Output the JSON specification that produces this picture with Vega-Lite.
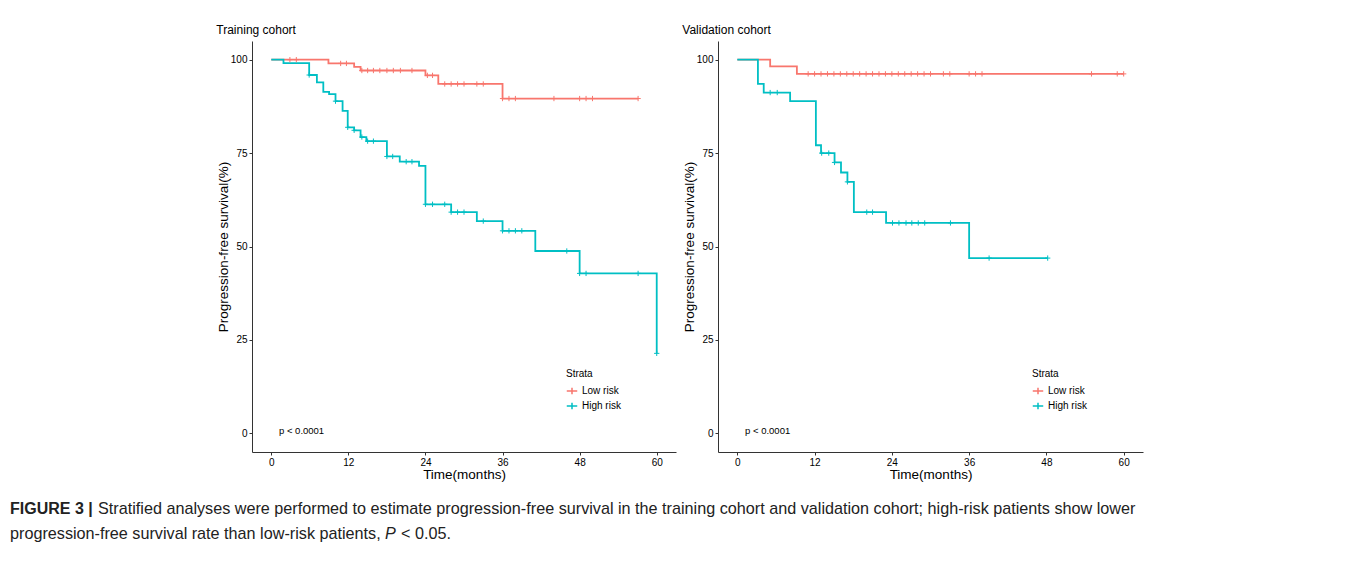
{
  "$schema": "https://vega.github.io/schema/vega-lite/v6.json",
  "background": "white",
  "padding": {"left": 10, "top": 24, "right": 5, "bottom": 5},
  "datasets": {
    "train_curve": [
      {"strata": "Low risk", "time": 0, "surv": 100},
      {"strata": "Low risk", "time": 8.9, "surv": 99.0},
      {"strata": "Low risk", "time": 12.9, "surv": 98.1},
      {"strata": "Low risk", "time": 13.9, "surv": 97.1},
      {"strata": "Low risk", "time": 24, "surv": 95.8},
      {"strata": "Low risk", "time": 26, "surv": 93.5},
      {"strata": "Low risk", "time": 36, "surv": 89.6},
      {"strata": "Low risk", "time": 57.1, "surv": 89.6},
      {"strata": "High risk", "time": 0, "surv": 100},
      {"strata": "High risk", "time": 1.9, "surv": 99.1},
      {"strata": "High risk", "time": 5.9, "surv": 95.9},
      {"strata": "High risk", "time": 7.1, "surv": 93.9},
      {"strata": "High risk", "time": 8.1, "surv": 91.4},
      {"strata": "High risk", "time": 9.0, "surv": 90.8},
      {"strata": "High risk", "time": 10.0, "surv": 88.9},
      {"strata": "High risk", "time": 11.1, "surv": 86.3},
      {"strata": "High risk", "time": 11.9, "surv": 81.9},
      {"strata": "High risk", "time": 12.9, "surv": 81.1},
      {"strata": "High risk", "time": 13.9, "surv": 79.3},
      {"strata": "High risk", "time": 14.8, "surv": 78.2},
      {"strata": "High risk", "time": 18.0, "surv": 74.1},
      {"strata": "High risk", "time": 20.0, "surv": 72.7},
      {"strata": "High risk", "time": 23.0, "surv": 71.6},
      {"strata": "High risk", "time": 24.0, "surv": 61.3},
      {"strata": "High risk", "time": 28.0, "surv": 59.2},
      {"strata": "High risk", "time": 32.0, "surv": 56.8},
      {"strata": "High risk", "time": 36.0, "surv": 54.2},
      {"strata": "High risk", "time": 41.1, "surv": 48.8},
      {"strata": "High risk", "time": 48.0, "surv": 42.8},
      {"strata": "High risk", "time": 60.0, "surv": 21.4}
    ],
    "train_censor": [
      {"strata": "Low risk", "time": 2.9, "surv": 100},
      {"strata": "Low risk", "time": 3.9, "surv": 100},
      {"strata": "Low risk", "time": 10.8, "surv": 99.0},
      {"strata": "Low risk", "time": 11.7, "surv": 99.0},
      {"strata": "Low risk", "time": 14.1, "surv": 97.1},
      {"strata": "Low risk", "time": 15.0, "surv": 97.1},
      {"strata": "Low risk", "time": 15.9, "surv": 97.1},
      {"strata": "Low risk", "time": 16.9, "surv": 97.1},
      {"strata": "Low risk", "time": 18.0, "surv": 97.1},
      {"strata": "Low risk", "time": 19.0, "surv": 97.1},
      {"strata": "Low risk", "time": 20.1, "surv": 97.1},
      {"strata": "Low risk", "time": 21.9, "surv": 97.1},
      {"strata": "Low risk", "time": 24.3, "surv": 95.8},
      {"strata": "Low risk", "time": 25.1, "surv": 95.8},
      {"strata": "Low risk", "time": 27.0, "surv": 93.5},
      {"strata": "Low risk", "time": 28.0, "surv": 93.5},
      {"strata": "Low risk", "time": 29.0, "surv": 93.5},
      {"strata": "Low risk", "time": 30.0, "surv": 93.5},
      {"strata": "Low risk", "time": 32.0, "surv": 93.5},
      {"strata": "Low risk", "time": 33.0, "surv": 93.5},
      {"strata": "Low risk", "time": 36.0, "surv": 89.6},
      {"strata": "Low risk", "time": 37.0, "surv": 89.6},
      {"strata": "Low risk", "time": 38.0, "surv": 89.6},
      {"strata": "Low risk", "time": 44.0, "surv": 89.6},
      {"strata": "Low risk", "time": 48.0, "surv": 89.6},
      {"strata": "Low risk", "time": 49.0, "surv": 89.6},
      {"strata": "Low risk", "time": 50.0, "surv": 89.6},
      {"strata": "Low risk", "time": 57.1, "surv": 89.6},
      {"strata": "High risk", "time": 5.9, "surv": 95.9},
      {"strata": "High risk", "time": 10.0, "surv": 88.9},
      {"strata": "High risk", "time": 11.9, "surv": 81.9},
      {"strata": "High risk", "time": 12.9, "surv": 81.1},
      {"strata": "High risk", "time": 14.1, "surv": 79.3},
      {"strata": "High risk", "time": 15.0, "surv": 78.2},
      {"strata": "High risk", "time": 15.9, "surv": 78.2},
      {"strata": "High risk", "time": 18.0, "surv": 74.1},
      {"strata": "High risk", "time": 18.9, "surv": 74.1},
      {"strata": "High risk", "time": 21.0, "surv": 72.7},
      {"strata": "High risk", "time": 21.9, "surv": 72.7},
      {"strata": "High risk", "time": 24.0, "surv": 61.3},
      {"strata": "High risk", "time": 25.1, "surv": 61.3},
      {"strata": "High risk", "time": 27.0, "surv": 61.3},
      {"strata": "High risk", "time": 28.0, "surv": 59.2},
      {"strata": "High risk", "time": 29.0, "surv": 59.2},
      {"strata": "High risk", "time": 30.0, "surv": 59.2},
      {"strata": "High risk", "time": 33.0, "surv": 56.8},
      {"strata": "High risk", "time": 36.0, "surv": 54.2},
      {"strata": "High risk", "time": 37.0, "surv": 54.2},
      {"strata": "High risk", "time": 38.0, "surv": 54.2},
      {"strata": "High risk", "time": 39.0, "surv": 54.2},
      {"strata": "High risk", "time": 46.0, "surv": 48.8},
      {"strata": "High risk", "time": 48.0, "surv": 42.8},
      {"strata": "High risk", "time": 49.0, "surv": 42.8},
      {"strata": "High risk", "time": 57.1, "surv": 42.8},
      {"strata": "High risk", "time": 60.0, "surv": 21.4}
    ],
    "valid_curve": [
      {"strata": "Low risk", "time": 0, "surv": 100},
      {"strata": "Low risk", "time": 5.1, "surv": 98.2},
      {"strata": "Low risk", "time": 9.25, "surv": 96.2},
      {"strata": "Low risk", "time": 60, "surv": 96.2},
      {"strata": "High risk", "time": 0, "surv": 100},
      {"strata": "High risk", "time": 3.2, "surv": 93.5},
      {"strata": "High risk", "time": 4.1, "surv": 91.2},
      {"strata": "High risk", "time": 8.2, "surv": 88.9},
      {"strata": "High risk", "time": 12.2, "surv": 77.1},
      {"strata": "High risk", "time": 13.0, "surv": 75.0},
      {"strata": "High risk", "time": 15.1, "surv": 72.5},
      {"strata": "High risk", "time": 16.1, "surv": 69.8},
      {"strata": "High risk", "time": 17.1, "surv": 67.3},
      {"strata": "High risk", "time": 18.1, "surv": 59.2},
      {"strata": "High risk", "time": 23.1, "surv": 56.3},
      {"strata": "High risk", "time": 36.0, "surv": 46.9},
      {"strata": "High risk", "time": 48.2, "surv": 46.9}
    ],
    "valid_censor": [
      {"strata": "Low risk", "time": 11, "surv": 96.2},
      {"strata": "Low risk", "time": 12, "surv": 96.2},
      {"strata": "Low risk", "time": 13, "surv": 96.2},
      {"strata": "Low risk", "time": 14, "surv": 96.2},
      {"strata": "Low risk", "time": 15, "surv": 96.2},
      {"strata": "Low risk", "time": 16, "surv": 96.2},
      {"strata": "Low risk", "time": 17, "surv": 96.2},
      {"strata": "Low risk", "time": 18, "surv": 96.2},
      {"strata": "Low risk", "time": 19, "surv": 96.2},
      {"strata": "Low risk", "time": 20, "surv": 96.2},
      {"strata": "Low risk", "time": 21, "surv": 96.2},
      {"strata": "Low risk", "time": 22, "surv": 96.2},
      {"strata": "Low risk", "time": 23, "surv": 96.2},
      {"strata": "Low risk", "time": 24, "surv": 96.2},
      {"strata": "Low risk", "time": 25, "surv": 96.2},
      {"strata": "Low risk", "time": 26, "surv": 96.2},
      {"strata": "Low risk", "time": 27, "surv": 96.2},
      {"strata": "Low risk", "time": 28, "surv": 96.2},
      {"strata": "Low risk", "time": 29, "surv": 96.2},
      {"strata": "Low risk", "time": 30, "surv": 96.2},
      {"strata": "Low risk", "time": 32, "surv": 96.2},
      {"strata": "Low risk", "time": 33, "surv": 96.2},
      {"strata": "Low risk", "time": 36, "surv": 96.2},
      {"strata": "Low risk", "time": 37, "surv": 96.2},
      {"strata": "Low risk", "time": 38, "surv": 96.2},
      {"strata": "Low risk", "time": 55, "surv": 96.2},
      {"strata": "Low risk", "time": 59, "surv": 96.2},
      {"strata": "Low risk", "time": 60, "surv": 96.2},
      {"strata": "High risk", "time": 5.1, "surv": 91.2},
      {"strata": "High risk", "time": 6.2, "surv": 91.2},
      {"strata": "High risk", "time": 13.1, "surv": 75.0},
      {"strata": "High risk", "time": 14.2, "surv": 75.0},
      {"strata": "High risk", "time": 15.1, "surv": 72.5},
      {"strata": "High risk", "time": 17.1, "surv": 67.3},
      {"strata": "High risk", "time": 20.1, "surv": 59.2},
      {"strata": "High risk", "time": 21.0, "surv": 59.2},
      {"strata": "High risk", "time": 24.1, "surv": 56.3},
      {"strata": "High risk", "time": 25.1, "surv": 56.3},
      {"strata": "High risk", "time": 26.2, "surv": 56.3},
      {"strata": "High risk", "time": 27.1, "surv": 56.3},
      {"strata": "High risk", "time": 28.1, "surv": 56.3},
      {"strata": "High risk", "time": 29.1, "surv": 56.3},
      {"strata": "High risk", "time": 33.1, "surv": 56.3},
      {"strata": "High risk", "time": 39.1, "surv": 46.9},
      {"strata": "High risk", "time": 48.2, "surv": 46.9}
    ],
    "pval": [{"label": "p < 0.0001", "time": 1.2, "surv": 0.5}],
    "caption": [
      {"part": "bold", "text": "FIGURE 3 |"},
      {"part": "line1", "text": "Stratified analyses were performed to estimate progression-free survival in the training cohort and validation cohort; high-risk patients show lower"},
      {"part": "line2", "text": "progression-free survival rate than low-risk patients,"},
      {"part": "italic", "text": "P"},
      {"part": "tail", "text": "< 0.05."}
    ]
  },
  "vconcat": [
    {
      "hconcat": [
        {
          "width": 200, "height": 411,
          "view": {"stroke": null},
          "data": {"values": []},
          "mark": {"type": "point", "opacity": 0},
          "encoding": {}
        },
        {
          "width": 424, "height": 411,
          "title": {"text": "Training cohort", "anchor": "start", "fontSize": 12, "fontWeight": "normal", "offset": 4, "font": "Liberation Sans", "color": "#000"},
          "layer": [
            {
              "data": {"name": "train_curve"},
              "mark": {"type": "line", "interpolate": "step-after", "strokeWidth": 1.8},
              "encoding": {
                "x": {"field": "time", "type": "quantitative", "scale": {"domain": [-3, 63], "nice": false, "zero": false}, "axis": {"values": [0, 12, 24, 36, 48, 60], "title": "Time(months)", "titlePadding": 0}},
                "y": {"field": "surv", "type": "quantitative", "scale": {"domain": [-5, 105], "nice": false, "zero": false}, "axis": {"values": [0, 25, 50, 75, 100], "title": "Progression-free survival(%)", "titlePadding": 0}},
                "color": {"field": "strata", "type": "nominal", "title": "Strata", "scale": {"domain": ["Low risk", "High risk"], "range": ["#F8766D", "#00BFC4"]}, "legend": {"orient": "none", "legendX": 314, "legendY": 328}}
              }
            },
            {
              "data": {"name": "train_censor"},
              "mark": {"type": "point", "shape": "M0,-1V1M-1,0H1", "size": 28, "strokeWidth": 1, "filled": false, "opacity": 1},
              "encoding": {
                "x": {"field": "time", "type": "quantitative"},
                "y": {"field": "surv", "type": "quantitative"},
                "color": {"field": "strata", "type": "nominal", "title": "Strata", "scale": {"domain": ["Low risk", "High risk"], "range": ["#F8766D", "#00BFC4"]}, "legend": {"orient": "none", "legendX": 314, "legendY": 328}}
              }
            },
            {
              "data": {"name": "pval"},
              "mark": {"type": "text", "align": "left", "baseline": "middle", "fontSize": 9.5, "font": "Liberation Sans", "color": "#000"},
              "encoding": {
                "x": {"field": "time", "type": "quantitative"},
                "y": {"field": "surv", "type": "quantitative"},
                "text": {"field": "label"}
              }
            }
          ]
        },
        {
          "width": 425, "height": 411,
          "title": {"text": "Validation cohort", "anchor": "start", "fontSize": 12, "fontWeight": "normal", "offset": 4, "font": "Liberation Sans", "color": "#000"},
          "layer": [
            {
              "data": {"name": "valid_curve"},
              "mark": {"type": "line", "interpolate": "step-after", "strokeWidth": 1.8},
              "encoding": {
                "x": {"field": "time", "type": "quantitative", "scale": {"domain": [-3, 63], "nice": false, "zero": false}, "axis": {"values": [0, 12, 24, 36, 48, 60], "title": "Time(months)", "titlePadding": 0}},
                "y": {"field": "surv", "type": "quantitative", "scale": {"domain": [-5, 105], "nice": false, "zero": false}, "axis": {"values": [0, 25, 50, 75, 100], "title": "Progression-free survival(%)", "titlePadding": 0}},
                "color": {"field": "strata", "type": "nominal", "title": "Strata", "scale": {"domain": ["Low risk", "High risk"], "range": ["#F8766D", "#00BFC4"]}, "legend": {"orient": "none", "legendX": 314, "legendY": 328}}
              }
            },
            {
              "data": {"name": "valid_censor"},
              "mark": {"type": "point", "shape": "M0,-1V1M-1,0H1", "size": 28, "strokeWidth": 1, "filled": false, "opacity": 1},
              "encoding": {
                "x": {"field": "time", "type": "quantitative"},
                "y": {"field": "surv", "type": "quantitative"},
                "color": {"field": "strata", "type": "nominal", "title": "Strata", "scale": {"domain": ["Low risk", "High risk"], "range": ["#F8766D", "#00BFC4"]}, "legend": {"orient": "none", "legendX": 314, "legendY": 328}}
              }
            },
            {
              "data": {"name": "pval"},
              "mark": {"type": "text", "align": "left", "baseline": "middle", "fontSize": 9.5, "font": "Liberation Sans", "color": "#000"},
              "encoding": {
                "x": {"field": "time", "type": "quantitative"},
                "y": {"field": "surv", "type": "quantitative"},
                "text": {"field": "label"}
              }
            }
          ]
        }
      ],
      "spacing": 6,
      "resolve": {"legend": {"color": "independent"}}
    },
    {
      "width": 1335, "height": 50,
      "view": {"stroke": null},
      "data": {"name": "caption"},
      "layer": [
        {
          "transform": [{"filter": "datum.part === 'bold'"}],
          "mark": {"type": "text", "align": "left", "baseline": "middle", "fontSize": 16, "fontWeight": "bold", "font": "Liberation Sans", "color": "#222"},
          "encoding": {"x": {"value": 0}, "y": {"value": 8}, "text": {"field": "text"}}
        },
        {
          "transform": [{"filter": "datum.part === 'line1'"}],
          "mark": {"type": "text", "align": "left", "baseline": "middle", "fontSize": 16.2, "font": "Liberation Sans", "color": "#222", "dx": 88},
          "encoding": {"x": {"value": 0}, "y": {"value": 8}, "text": {"field": "text"}}
        },
        {
          "transform": [{"filter": "datum.part === 'line2'"}],
          "mark": {"type": "text", "align": "left", "baseline": "middle", "fontSize": 16.2, "font": "Liberation Sans", "color": "#222"},
          "encoding": {"x": {"value": 0}, "y": {"value": 33}, "text": {"field": "text"}}
        },
        {
          "transform": [{"filter": "datum.part === 'italic'"}],
          "mark": {"type": "text", "align": "left", "baseline": "middle", "fontSize": 16.2, "fontStyle": "italic", "font": "Liberation Sans", "color": "#222", "dx": 375},
          "encoding": {"x": {"value": 0}, "y": {"value": 33}, "text": {"field": "text"}}
        },
        {
          "transform": [{"filter": "datum.part === 'tail'"}],
          "mark": {"type": "text", "align": "left", "baseline": "middle", "fontSize": 16.2, "font": "Liberation Sans", "color": "#222", "dx": 391},
          "encoding": {"x": {"value": 0}, "y": {"value": 33}, "text": {"field": "text"}}
        }
      ]
    }
  ],
  "spacing": 20,
  "config": {
    "view": {"stroke": null},
    "font": "Liberation Sans",
    "axis": {
      "grid": false,
      "domainColor": "#333",
      "domainWidth": 1,
      "tickColor": "#333",
      "tickSize": 3,
      "labelColor": "#000",
      "labelFontSize": 10,
      "labelFont": "Liberation Sans",
      "labelPadding": 2,
      "titleFont": "Liberation Sans",
      "titleFontSize": 13.5,
      "titleFontWeight": "normal",
      "titleColor": "#000"
    },
    "legend": {
      "titleFontSize": 10,
      "titleFontWeight": "normal",
      "titleFont": "Liberation Sans",
      "titleColor": "#000",
      "labelFontSize": 10,
      "labelFont": "Liberation Sans",
      "labelColor": "#000",
      "symbolType": "M-1,0H1M0,-0.6V0.6",
      "symbolSize": 110,
      "symbolStrokeWidth": 1.5,
      "rowPadding": 1,
      "titlePadding": 6
    }
  }
}
